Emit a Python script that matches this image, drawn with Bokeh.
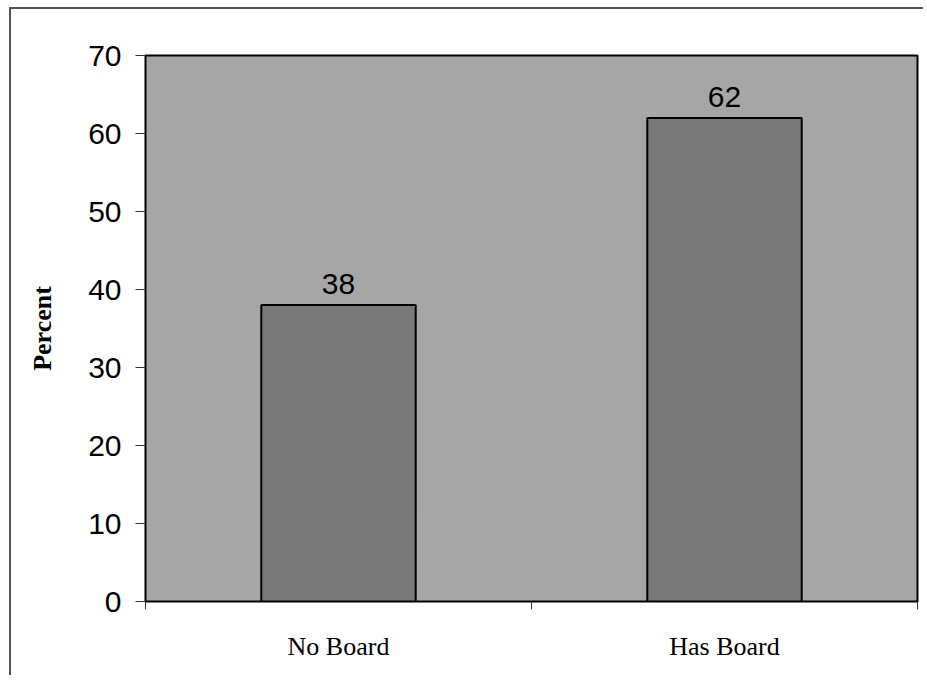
from bokeh.plotting import figure
from bokeh.layouts import column
from bokeh.models import ColumnDataSource, FixedTicker, Range1d
from bokeh.embed import file_html
from bokeh.resources import INLINE
from bokeh.core.properties import value

# Share of respondents by board status
categories = ["No Board", "Has Board"]
percents = [38, 62]
y_ticks = [0, 10, 20, 30, 40, 50, 60, 70]

positions = [i + 0.5 for i in range(len(categories))]
source = ColumnDataSource(data=dict(
    x=positions,
    top=percents,
    label=[str(v) for v in percents],
))

p = figure(
    width=912, height=666,
    x_range=Range1d(0, len(categories)),
    y_range=Range1d(0, 70),
    output_backend="svg",
    toolbar_location=None,
    min_border_left=134, min_border_right=6,
    min_border_top=46, min_border_bottom=74,
    background_fill_color="#a6a6a6",
    border_fill_color="white",
    outline_line_color="black",
    outline_line_width=2,
)

p.vbar(x="x", top="top", width=0.4, source=source,
       fill_color="#797979", line_color="black", line_width=2)

p.text(x="x", y="top", text="label", source=source,
       text_font=value("Liberation Sans"), text_font_size="30px",
       text_align="center", text_baseline="alphabetic", y_offset=-21,
       text_color="black")

p.xgrid.visible = False
p.ygrid.visible = False

# y axis
p.yaxis.ticker = FixedTicker(ticks=y_ticks)
p.yaxis.axis_label = "Percent"
p.yaxis.axis_label_text_font = "Liberation Serif"
p.yaxis.axis_label_text_font_style = "bold"
p.yaxis.axis_label_text_font_size = "26px"
p.yaxis.axis_label_text_color = "black"
p.yaxis.axis_label_standoff = 28
p.yaxis.major_label_text_font = "Liberation Sans"
p.yaxis.major_label_text_font_size = "30px"
p.yaxis.major_label_text_color = "black"
p.yaxis.major_label_standoff = 14
p.yaxis.major_tick_out = 10
p.yaxis.major_tick_in = 0
p.yaxis.minor_tick_out = 0
p.yaxis.minor_tick_in = 0
p.yaxis.axis_line_color = "black"
p.yaxis.major_tick_line_color = "#333333"

# x axis: labels at bar centres, tick marks at category boundaries
p.xaxis.ticker = FixedTicker(ticks=positions,
                             minor_ticks=list(range(len(categories) + 1)))
p.xaxis.major_label_overrides = {pos: c for pos, c in zip(positions, categories)}
p.xaxis.major_label_text_font = "Liberation Serif"
p.xaxis.major_label_text_font_size = "26px"
p.xaxis.major_label_text_color = "black"
p.xaxis.major_label_standoff = 22
p.xaxis.major_tick_out = 0
p.xaxis.major_tick_in = 0
p.xaxis.minor_tick_out = 8
p.xaxis.minor_tick_in = 0
p.xaxis.minor_tick_line_color = "#333333"
p.xaxis.axis_line_color = "black"

# chart-area frame: left and top edges only (the rest runs off the page)
page = column(p, margin=(7, 0, 0, 9),
              styles={"border-left": "2px solid #555555",
                      "border-top": "2px solid #555555"})

open("out.html", "w").write(file_html(page, INLINE))
